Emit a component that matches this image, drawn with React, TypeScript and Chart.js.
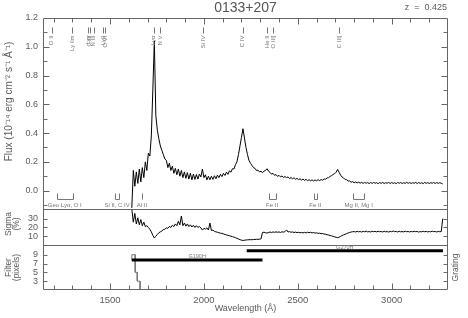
import React, { useEffect, useRef } from 'react';
import { Chart, registerables } from 'chart.js';

Chart.register(...registerables);

const REDSHIFT = 0.425;
const OBJECT_NAME = '0133+207';
const WAVE_START = 1616;
const WAVE_STEP = 8;
const WAVE_MIN = 1143;
const WAVE_MAX = 3300;

const FLUX = [
  -0.12, 0.14, 0.03, 0.13, 0.05, 0.15, 0.06, 0.16, 0.09, 0.2,
  0.14, 0.26, 0.24, 0.38, 0.7, 1.04, 0.52, 0.42, 0.36, 0.31,
  0.28, 0.25, 0.22, 0.21, 0.16, 0.19, 0.14, 0.17, 0.12, 0.155,
  0.11, 0.15, 0.1, 0.14, 0.09, 0.13, 0.085, 0.125, 0.08, 0.12,
  0.075, 0.115, 0.078, 0.112, 0.08, 0.115, 0.095, 0.15, 0.09, 0.11,
  0.075, 0.1, 0.075, 0.1, 0.078, 0.103, 0.082, 0.107, 0.09, 0.113,
  0.097, 0.12, 0.105, 0.128, 0.113, 0.137, 0.128, 0.152, 0.15, 0.18,
  0.2, 0.25, 0.31, 0.37, 0.43, 0.365, 0.3, 0.25, 0.21, 0.19,
  0.175, 0.16, 0.155, 0.14, 0.142, 0.13, 0.134, 0.125, 0.135, 0.14,
  0.152, 0.135, 0.127, 0.114, 0.12, 0.106, 0.112, 0.099, 0.106, 0.095,
  0.102, 0.091, 0.098, 0.09, 0.095, 0.084, 0.091, 0.082, 0.089, 0.079,
  0.085, 0.076, 0.082, 0.073, 0.08, 0.071, 0.078, 0.069, 0.076, 0.068,
  0.075, 0.067, 0.074, 0.068, 0.076, 0.069, 0.077, 0.072, 0.081, 0.079,
  0.088, 0.09, 0.099, 0.104, 0.112, 0.117, 0.128, 0.147, 0.127, 0.108,
  0.094, 0.088, 0.077, 0.076, 0.066, 0.067, 0.058, 0.062, 0.055, 0.06,
  0.053, 0.059, 0.052, 0.058, 0.05, 0.057, 0.051, 0.056, 0.049, 0.056,
  0.05, 0.057, 0.051, 0.055, 0.048, 0.056, 0.05, 0.057, 0.049, 0.055,
  0.051, 0.057, 0.049, 0.056, 0.05, 0.055, 0.048, 0.057, 0.051, 0.056,
  0.049, 0.055, 0.05, 0.058, 0.05, 0.056, 0.049, 0.055, 0.051, 0.057,
  0.049, 0.056, 0.05, 0.055, 0.048, 0.057, 0.05, 0.056, 0.049, 0.055,
  0.051, 0.057, 0.049, 0.056, 0.05, 0.055, 0.051, 0.046,
];

const SIGMA = [
  41, 26, 36, 24, 31, 23, 29, 22, 26, 21,
  22, 20, 18, 15, 11, 8, 10, 12, 14, 15,
  16, 17.5, 18, 19.5, 19, 21, 20, 22.5, 21, 24,
  22, 27, 23, 33, 22, 25, 21.5, 24, 21, 23,
  20.5, 22.5, 20, 22, 20, 21, 19.5, 17, 19, 18,
  19.5, 17, 25, 16.5, 17, 15.5, 15, 14.5, 14, 13.5,
  13.2, 12.6, 12, 11.5, 11, 10.6, 10, 9.5, 9, 8.3,
  7.6, 6.8, 6.1, 5.5, 5.2, 5.4, 5.7, 5.9, 6.0, 6.1,
  6.0, 6.2, 6.3, 6.5, 6.4, 6.7, 6.9, 14.2, 14.6, 14.0,
  13.6, 14.2, 14.8, 14.3, 14.9, 14.4, 15.0, 14.5, 14.9, 14.3,
  15.1, 14.6, 15.3, 17.2, 14.8, 15.2, 14.5, 14.9, 14.2, 14.7,
  14.1, 14.5, 13.9, 14.3, 13.8, 14.4, 13.7, 14.6, 14.0, 14.5,
  13.8, 14.2, 13.5, 13.9, 13.2, 13.5, 12.9, 13.1, 12.4, 12.3,
  11.7, 11.4, 10.8, 10.4, 9.8, 9.3, 8.8, 8.3, 8.9, 9.8,
  10.7, 11.5, 12.3, 13.0, 13.7, 14.2, 14.8, 15.1, 15.3, 14.8,
  15.6, 15.0, 15.4, 14.7, 15.5, 15.1, 15.8, 15.0, 15.3, 14.8,
  15.6, 15.2, 15.5, 14.9, 15.7, 15.1, 15.4, 14.8, 15.6, 15.0,
  15.3, 14.7, 15.5, 15.1, 15.9, 15.2, 15.4, 14.8, 15.6, 15.0,
  15.3, 14.9, 15.7, 15.1, 15.4, 14.8, 15.5, 15.0, 15.6, 15.2,
  15.4, 14.7, 15.3, 15.0, 15.6, 15.1, 15.5, 14.9, 15.3, 15.0,
  15.7, 15.2, 15.4, 14.8, 15.5, 15.1, 15.3, 30,
];

const FILTER_WAVE = [1616, 1616, 1634, 1634, 1645, 1645, 1660, 1660, 3272];
const FILTER_PIXELS = [7.8, 9, 9, 5, 5, 3, 3, 1, 1];

const GRATING_NAMES = ['G190H', 'G270H'];
const GRATING_START = [1616, 2228];
const GRATING_END = [2312, 3273];
const GRATING_LEVEL = [7.8, 9.9];

const EMISSION_NAMES = ['O II', 'Ly lim', 'Lyγ', 'C III', 'N III', 'Lyβ', 'O VI', 'Lyα', 'N V', 'Si IV', 'C IV', 'He II', 'O III]', 'C III]'];
const EMISSION_REST = [834, 912, 972, 977, 991, 1026, 1034, 1216, 1240, 1400, 1549, 1640, 1663, 1909];

const ISM_NAMES = ['Geo Lyα, O I', 'Si II, C IV', 'Al II', 'Fe II', 'Fe II', 'Mg II, Mg I'];
const ISM_WAVES = [[1216, 1302], [1526, 1549], [1670], [2344, 2382], [2586, 2600], [2796, 2852]];

const X_TICKS = [1500, 2000, 2500, 3000];
const FLUX_TICKS = [0, 0.2, 0.4, 0.6, 0.8, 1.0, 1.2];
const SIGMA_TICKS = [10, 20, 30];
const FILTER_TICKS = [3, 5, 7, 9];

const FONT = '"Liberation Sans", Arial, sans-serif';
const TEXT = '#5a5a5a';
const FRAME = '#666666';

function vtext(ctx: CanvasRenderingContext2D, s: string, x: number, y: number, align: CanvasTextAlign) {
  ctx.save();
  ctx.translate(x, y);
  ctx.rotate(-Math.PI / 2);
  ctx.textAlign = align;
  ctx.textBaseline = 'middle';
  ctx.fillText(s, 0, 0);
  ctx.restore();
}

const decorPlugin = {
  id: 'decor',
  afterDatasetsDraw(chart: any) {
    const { ctx, chartArea } = chart;
    const sx = chart.scales.x;
    const sy = chart.scales.y;
    const ss = chart.scales.ys;
    const sf = chart.scales.yf;
    const L = Math.round(chartArea.left) + 0.5;
    const R = Math.round(chartArea.right) - 0.5;
    const T = Math.round(sy.top) + 0.5;
    const B = Math.round(sf.bottom) - 0.5;
    const H1 = Math.round(ss.top) + 0.5;
    const H2 = Math.round(sf.top) + 0.5;
    ctx.save();
    ctx.strokeStyle = FRAME;
    ctx.lineWidth = 1;
    ctx.beginPath();
    ctx.moveTo(L, T); ctx.lineTo(R, T); ctx.lineTo(R, B); ctx.lineTo(L, B); ctx.closePath();
    ctx.moveTo(L, H1); ctx.lineTo(R, H1);
    ctx.moveTo(L, H2); ctx.lineTo(R, H2);
    for (let w = 1200; w <= 3300; w += 100) {
      const px = Math.round(sx.getPixelForValue(w)) + 0.5;
      if (px <= L + 1 || px >= R - 1) continue;
      const len = w % 500 === 0 ? 6 : 4;
      ctx.moveTo(px, T); ctx.lineTo(px, T + len);
      ctx.moveTo(px, B); ctx.lineTo(px, B - len);
    }
    for (let k = -1; k <= 12; k++) {
      const py = Math.round(sy.getPixelForValue(k / 10)) + 0.5;
      if (py <= T || py >= H1) continue;
      const len = k % 2 === 0 ? 6 : 4;
      ctx.moveTo(L, py); ctx.lineTo(L + len, py);
      ctx.moveTo(R, py); ctx.lineTo(R - len, py);
    }
    SIGMA_TICKS.forEach((v) => {
      const py = Math.round(ss.getPixelForValue(v)) + 0.5;
      ctx.moveTo(L, py); ctx.lineTo(L + 4, py);
      ctx.moveTo(R, py); ctx.lineTo(R - 4, py);
    });
    FILTER_TICKS.forEach((v) => {
      const py = Math.round(sf.getPixelForValue(v)) + 0.5;
      ctx.moveTo(L, py); ctx.lineTo(L + 4, py);
      ctx.moveTo(R, py); ctx.lineTo(R - 4, py);
    });
    ctx.stroke();

    // emission line identifications
    ctx.strokeStyle = '#777';
    ctx.fillStyle = '#777';
    ctx.font = `6px ${FONT}`;
    ctx.beginPath();
    EMISSION_REST.forEach((rest) => {
      const px = Math.round(sx.getPixelForValue(rest * (1 + REDSHIFT))) + 0.5;
      ctx.moveTo(px, T + 9); ctx.lineTo(px, T + 15);
    });
    ctx.stroke();
    EMISSION_REST.forEach((rest, i) => {
      const px = sx.getPixelForValue(rest * (1 + REDSHIFT));
      vtext(ctx, EMISSION_NAMES[i], px, T + 17, 'right');
    });

    // interstellar / geocoronal features
    const bTop = H1 - 16;
    const bBot = H1 - 10;
    ctx.beginPath();
    ISM_WAVES.forEach((ws) => {
      const pxs = ws.map((w) => Math.round(sx.getPixelForValue(w)) + 0.5);
      pxs.forEach((px) => { ctx.moveTo(px, bTop); ctx.lineTo(px, bBot); });
      if (pxs.length > 1) { ctx.moveTo(pxs[0], bBot); ctx.lineTo(pxs[pxs.length - 1], bBot); }
    });
    ctx.stroke();
    ctx.textAlign = 'center';
    ctx.textBaseline = 'middle';
    ISM_WAVES.forEach((ws, i) => {
      const mid = (ws[0] + ws[ws.length - 1]) / 2;
      ctx.fillText(ISM_NAMES[i], sx.getPixelForValue(mid), H1 - 4.5);
    });

    // grating labels
    ctx.font = `5.5px ${FONT}`;
    GRATING_NAMES.forEach((g, i) => {
      const mid = (GRATING_START[i] + GRATING_END[i]) / 2;
      ctx.fillText(g, sx.getPixelForValue(mid), sf.getPixelForValue(GRATING_LEVEL[i]) - 3.5);
    });
    ctx.restore();
  },
  afterDraw(chart: any) {
    const { ctx, chartArea } = chart;
    const sy = chart.scales.y;
    const ss = chart.scales.ys;
    const sf = chart.scales.yf;
    ctx.save();
    ctx.fillStyle = '#555';
    ctx.font = `14px ${FONT}`;
    ctx.textAlign = 'center';
    ctx.textBaseline = 'middle';
    ctx.fillText(OBJECT_NAME, (chartArea.left + chartArea.right) / 2, 8);
    ctx.font = `9px ${FONT}`;
    ctx.textAlign = 'right';
    ctx.fillStyle = TEXT;
    ctx.fillText(`z  =  ${REDSHIFT.toFixed(3)}`, chartArea.right - 1, 8);

    ctx.font = `10px ${FONT}`;
    vtext(ctx, 'Flux (10⁻¹⁴ erg cm⁻² s⁻¹ Å⁻¹)', 9, (sy.top + sy.bottom) / 2 - 12, 'center');
    ctx.font = `8.5px ${FONT}`;
    const sc = (ss.top + ss.bottom) / 2 - 3;
    vtext(ctx, 'Sigma', 8.5, sc, 'center');
    vtext(ctx, '(%)', 16.5, sc, 'center');
    const fc = (sf.top + sf.bottom) / 2;
    vtext(ctx, 'Filter', 8.5, fc, 'center');
    vtext(ctx, '(pixels)', 16.5, fc, 'center');
    vtext(ctx, 'Grating', chartArea.right + 8, fc, 'center');
    ctx.restore();
  },
};

function yCommon(ticksList: number[], fmt: (v: number) => string) {
  return {
    type: 'linear' as const,
    position: 'left' as const,
    stack: 'panels',
    grid: { display: false, drawTicks: false, tickLength: 0 },
    border: { display: false },
    ticks: {
      color: TEXT,
      font: { family: FONT, size: 9 },
      padding: 5,
      autoSkip: false,
      callback: (v: any) => fmt(Number(v)),
    },
    afterBuildTicks: (s: any) => { s.ticks = ticksList.map((v) => ({ value: v })); },
    afterFit: (s: any) => { s.width = 43; },
  };
}

export default function App() {
  const ref = useRef<HTMLCanvasElement>(null);
  useEffect(() => {
    if (!ref.current) return;
    const fluxPts = FLUX.map((v, i) => ({ x: WAVE_START + i * WAVE_STEP, y: v }));
    const sigmaPts = SIGMA.map((v, i) => ({ x: WAVE_START + i * WAVE_STEP, y: v }));
    const filterPts = FILTER_WAVE.map((w, i) => ({ x: w, y: FILTER_PIXELS[i] }));
    const gratingSets = GRATING_NAMES.map((g, i) => ({
      label: g,
      data: [{ x: GRATING_START[i], y: GRATING_LEVEL[i] }, { x: GRATING_END[i], y: GRATING_LEVEL[i] }],
      yAxisID: 'yf',
      borderColor: '#000',
      borderWidth: 3,
      borderCapStyle: 'butt' as const,
      pointRadius: 0,
      tension: 0,
    }));
    const chart = new Chart(ref.current, {
      type: 'line',
      data: {
        datasets: [
          { label: 'Flux', data: fluxPts, yAxisID: 'y', borderColor: '#000', borderWidth: 1, pointRadius: 0, tension: 0 },
          { label: 'Sigma', data: sigmaPts, yAxisID: 'ys', borderColor: '#000', borderWidth: 1, pointRadius: 0, tension: 0 },
          ...gratingSets,
          { label: 'Filter', data: filterPts, yAxisID: 'yf', borderColor: '#777', borderWidth: 1, pointRadius: 0, tension: 0 },
        ],
      },
      options: {
        responsive: false,
        animation: false,
        devicePixelRatio: 1,
        layout: { padding: { top: 18, right: 20, bottom: 0, left: 0 } },
        plugins: { legend: { display: false }, tooltip: { enabled: false }, title: { display: false } },
        events: [],
        scales: {
          x: {
            type: 'linear',
            position: 'bottom',
            min: WAVE_MIN,
            max: WAVE_MAX,
            grid: { display: false, drawTicks: false, tickLength: 0 },
            border: { display: false },
            ticks: {
              color: TEXT,
              font: { family: FONT, size: 9.5 },
              padding: 4.5,
              autoSkip: false,
              maxRotation: 0,
              callback: (v: any) => String(v),
            },
            afterBuildTicks: (s: any) => { s.ticks = X_TICKS.map((v) => ({ value: v })); },
            afterFit: (s: any) => { s.height = 28; },
            title: {
              display: true,
              text: 'Wavelength (Å)',
              color: TEXT,
              font: { family: FONT, size: 9 },
              padding: { top: 0, bottom: 4.5 },
            },
          },
          yf: { ...yCommon(FILTER_TICKS, (v) => String(v)), stackWeight: 45, min: 1, max: 11.2 },
          ys: { ...yCommon(SIGMA_TICKS, (v) => String(v)), stackWeight: 36, min: 0, max: 41 },
          y: { ...yCommon(FLUX_TICKS, (v) => v.toFixed(1)), stackWeight: 191, min: -0.128, max: 1.2 },
        },
      },
      plugins: [decorPlugin],
    } as any);
    return () => chart.destroy();
  }, []);
  return (
    <canvas
      ref={ref}
      width={468}
      height={318}
      style={{ position: 'fixed', left: 0, top: 0, width: 468, height: 318, display: 'block' }}
    />
  );
}
